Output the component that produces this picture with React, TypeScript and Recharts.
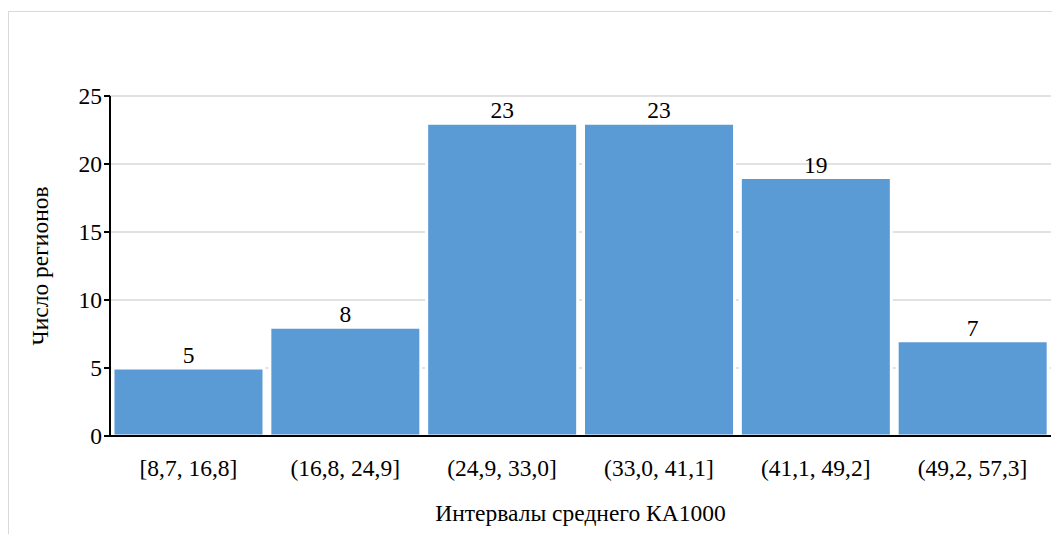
import { BarChart, Bar, XAxis, YAxis, CartesianGrid, LabelList } from 'recharts';

const intervals = ['[8,7, 16,8]', '(16,8, 24,9]', '(24,9, 33,0]', '(33,0, 41,1]', '(41,1, 49,2]', '(49,2, 57,3]'];
const regionCounts = [5, 8, 23, 23, 19, 7];
const yTicks = [0, 5, 10, 15, 20, 25];

const data = intervals.map((interval, i) => ({ interval, count: regionCounts[i] }));

const font = 'Liberation Serif, Times New Roman, serif';
const txt = { fill: '#000', fontSize: 23.5, fontFamily: font };

const App = () => {
  return (
    <div
      style={{
        marginTop: 3,
        width: 1100,
        height: 540,
        border: '1px solid #d9d9d9',
        overflow: 'hidden',
        fontFamily: font,
      }}
    >
      <BarChart
        width={1051}
        height={522}
        data={data}
        margin={{ top: 84, right: 9, left: 0, bottom: 0 }}
        barCategoryGap={3}
      >
        <CartesianGrid vertical={false} stroke="#d9d9d9" strokeWidth={1.5} />
        <XAxis
          dataKey="interval"
          height={98}
          tickLine={false}
          axisLine={{ stroke: '#000', strokeWidth: 2 }}
          tick={txt}
          dy={15}
          label={{ value: 'Интервалы среднего КА1000', position: 'insideBottom', offset: 13, ...txt }}
        />
        <YAxis
          width={101}
          domain={[0, 25]}
          ticks={yTicks}
          interval={0}
          tickSize={6}
          tickLine={{ stroke: '#000', strokeWidth: 2 }}
          axisLine={{ stroke: '#000', strokeWidth: 2 }}
          tick={txt}
          label={{ value: 'Число регионов', angle: -90, position: 'insideLeft', offset: 31, ...txt, style: { textAnchor: 'middle' } }}
        />
        <Bar dataKey="count" fill="#5B9BD5" stroke="#fff" strokeWidth={3} isAnimationActive={false}>
          <LabelList dataKey="count" position="top" offset={5} {...txt} />
        </Bar>
      </BarChart>
    </div>
  );
};

export default App;
